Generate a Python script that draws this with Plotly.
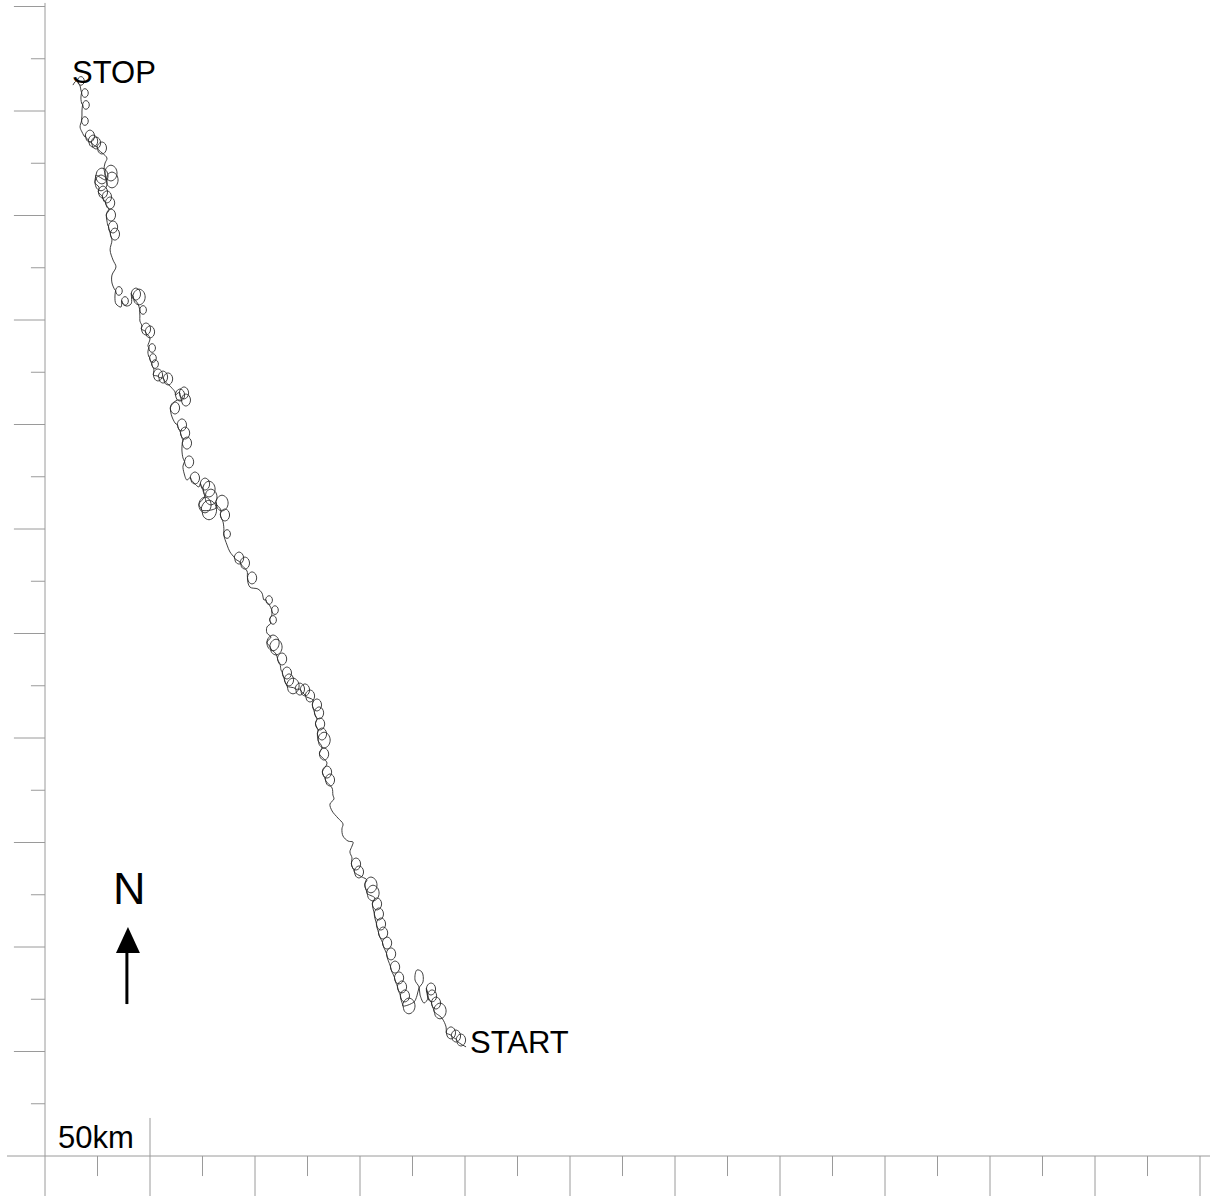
import plotly.graph_objects as go

# Drifter track, START -> STOP, in km east / north of the map origin.
# loop_radius_km > 0 marks an inertial loop centred on that point.
track_east_km = [
    200.5, 198.1, 195.7, 193.3, 191.0, 189.0, 188.1, 186.2, 184.3, 183.8,
    182.4, 180.5, 178.6, 178.1, 176.2, 177.1, 179.5, 180.0, 178.1, 177.1,
    175.7, 173.3, 171.4, 170.0, 168.6, 166.7, 164.8, 162.9, 161.0, 160.0,
    159.0, 158.1, 157.1, 156.2, 155.2, 153.3, 151.0, 149.5, 148.1, 146.2,
    145.2, 146.2, 146.7, 144.3, 141.9, 141.4, 141.9, 139.5, 136.7, 135.7,
    137.6, 137.1, 136.7, 135.7, 134.3, 134.3, 132.9, 131.9, 132.9, 131.9,
    130.0, 131.0, 129.5, 130.5, 129.5, 127.6, 126.2, 123.8, 121.4, 118.1,
    116.2, 115.2, 112.4, 111.9, 112.9, 110.0, 110.0, 108.6, 107.6, 105.7,
    105.7, 107.6, 108.6, 108.1, 109.5, 107.1, 106.7, 104.3, 103.3, 101.4,
    97.6, 98.6, 96.2, 95.2, 92.4, 90.0, 88.1, 86.7, 86.7, 85.2,
    84.8, 85.7, 83.8, 84.3, 81.4, 78.1, 76.2, 79.0, 78.1, 76.2,
    73.3, 71.0, 71.4, 67.6, 66.2, 65.7, 68.6, 65.7, 65.2, 67.6,
    65.7, 66.7, 65.2, 62.4, 60.5, 61.9, 62.9, 67.1, 66.2, 64.3,
    61.9, 60.0, 58.6, 56.2, 53.8, 51.9, 52.4, 51.4, 49.5, 49.0,
    51.0, 49.0, 50.0, 50.0, 48.1, 46.2, 45.2, 45.2, 46.7, 44.3,
    44.8, 43.3, 41.0, 38.6, 38.1, 36.2, 33.8, 33.3, 35.2, 33.3,
    31.9, 31.9, 33.8, 32.4, 31.0, 31.9, 33.3, 32.4, 30.0, 29.5,
    31.4, 30.5, 31.0, 29.5, 27.6, 25.7, 26.7, 27.1, 31.9, 31.4,
    28.1, 28.6, 29.5, 27.1, 24.8, 24.3, 22.9, 21.4, 19.0, 17.6,
    16.7, 19.0, 17.6, 17.6, 19.5, 17.6, 17.1, 19.0, 17.1, 16.7,
    17.1, 14.3, 13.3,
]
track_north_km = [
    52.2, 55.5, 57.4, 58.9, 61.7, 66.0, 69.4, 73.2, 76.6, 79.9,
    75.6, 73.2, 77.0, 80.9, 84.2, 89.0, 88.0, 83.3, 80.4, 76.6,
    73.7, 71.8, 76.6, 80.9, 85.2, 90.4, 96.7, 101.9, 106.7, 111.0,
    115.8, 120.6, 123.4, 125.8, 129.7, 132.1, 133.5, 135.9, 139.7, 142.6,
    145.5, 148.3, 150.2, 150.7, 153.1, 156.5, 158.9, 161.7, 165.1, 168.4,
    170.8, 172.7, 176.1, 179.9, 183.7, 188.0, 192.3, 195.7, 199.0, 201.9,
    203.8, 206.7, 209.1, 212.0, 215.8, 218.2, 220.1, 223.0, 223.4, 224.9,
    227.8, 231.1, 232.5, 235.4, 237.8, 240.2, 243.5, 245.5, 248.3, 250.2,
    253.1, 255.0, 256.5, 259.3, 261.2, 263.2, 266.0, 266.0, 269.4, 271.3,
    272.2, 276.6, 279.9, 283.7, 286.1, 286.6, 289.0, 292.3, 297.6, 299.5,
    303.3, 306.7, 309.1, 312.4, 310.0, 309.1, 311.5, 315.3, 319.1, 321.5,
    320.1, 322.0, 324.4, 323.4, 326.8, 330.1, 332.1, 334.0, 337.8, 341.1,
    342.1, 345.9, 349.8, 350.2, 353.6, 357.9, 361.7, 361.7, 365.1, 364.1,
    365.6, 367.9, 371.8, 372.7, 373.7, 376.1, 378.9, 381.8, 382.3, 384.7,
    386.6, 387.6, 391.4, 394.3, 395.7, 397.1, 399.5, 401.9, 404.8, 407.7,
    411.0, 412.4, 407.7, 406.7, 409.1, 406.2, 407.7, 411.0, 413.9, 414.4,
    417.7, 421.5, 425.4, 428.7, 433.5, 438.3, 441.1, 444.5, 445.0, 447.4,
    450.2, 452.6, 456.0, 458.9, 461.2, 463.6, 465.6, 468.9, 467.0, 470.3,
    472.2, 475.1, 477.5, 482.3, 482.8, 484.7, 485.6, 488.0, 487.6, 490.0,
    492.3, 495.2, 497.6, 500.0, 502.9, 503.3, 506.2, 508.6, 510.0, 512.0,
    514.4, 513.9, 512.4,
]
loop_radius_km = [
    0, 2.2, 2.2, 2.2, 0, 0, 2.9, 2.2, 2.2, 2.2,
    0, 0, 0, 0, 0, 0, 0, 0, 0, 0,
    0, 2.9, 2.2, 2.2, 2.2, 2.2, 2.2, 2.2, 2.2, 2.2,
    2.2, 2.2, 0, 2.9, 2.9, 0, 0, 2.2, 2.2, 0,
    0, 0, 0, 0, 0, 0, 0, 0, 0, 0,
    0, 0, 0, 2.2, 2.2, 0, 2.2, 0, 2.9, 2.2,
    0, 2.2, 0, 2.2, 2.2, 0, 2.2, 2.2, 2.2, 2.9,
    2.2, 2.2, 0, 0, 2.2, 0, 2.9, 2.9, 0, 0,
    0, 0, 1.6, 0, 1.6, 0, 1.6, 0, 0, 0,
    0, 2.2, 0, 2.2, 2.2, 0, 0, 0, 1.6, 0,
    0, 2.2, 0, 2.9, 0, 3.6, 2.9, 2.9, 2.9, 2.2,
    0, 0, 2.2, 0, 0, 0, 2.2, 0, 0, 2.2,
    0, 2.2, 2.2, 0, 0, 2.2, 0, 2.2, 2.2, 2.2,
    0, 0, 2.2, 2.2, 2.2, 0, 1.6, 1.6, 0, 0,
    1.6, 0, 0, 2.2, 2.2, 0, 0, 0, 1.6, 0,
    2.9, 2.2, 0, 0, 1.6, 0, 0, 0, 1.6, 0,
    0, 0, 0, 0, 0, 0, 2.2, 2.2, 0, 0,
    2.2, 0, 2.2, 2.2, 2.2, 0, 2.9, 2.9, 2.9, 2.9,
    0, 0, 0, 2.2, 0, 2.2, 2.2, 2.2, 0, 0,
    0, 1.6, 0, 0, 1.6, 0, 0, 1.6, 0, 0,
    1.6, 0, 0,
]
# loops are a little taller (north-south) than they are wide
loop_aspect = 1.3

# Scale ticks every 25 km along both map edges
tick_km = [25, 50, 75, 100, 125, 150, 175, 200, 225, 250, 275,
           300, 325, 350, 375, 400, 425, 450, 475, 500, 525, 550]
scale_bar_km = 50

# Unit loop outline, entered and left on its west side
loop_dx = [-1.0, -0.7, 0.0, 0.7, 1.0, 0.7, 0.0, -0.7, -1.0]
loop_dy = [0.0, 0.7, 1.0, 0.7, 0.0, -0.7, -1.0, -0.7, 0.1]

path_x, path_y = [], []
for e, n, r in zip(track_east_km, track_north_km, loop_radius_km):
    if r == 0:
        path_x.append(e)
        path_y.append(n)
    else:
        path_x += [e + r * dx for dx in loop_dx]
        path_y += [n + r * loop_aspect * dy for dy in loop_dy]

X_RANGE = [-21.43, 554.76]
Y_RANGE = [-19.14, 553.11]
AXIS_COLOR = "#9a9a9a"

fig = go.Figure()
fig.add_trace(go.Scatter(
    x=path_x, y=path_y, mode="lines",
    line=dict(color="#2a2a2a", width=0.9, shape="spline", smoothing=1.0),
    hoverinfo="skip", showlegend=False,
))

shapes = []
# map frame: bottom and left edges
shapes.append(dict(type="line", xref="x", yref="y", x0=-18.1, x1=X_RANGE[1], y0=0, y1=0,
                   line=dict(color=AXIS_COLOR, width=1)))
shapes.append(dict(type="line", xref="x", yref="y", x0=0, x1=0, y0=Y_RANGE[0], y1=551.7,
                   line=dict(color=AXIS_COLOR, width=1)))
for i, t in enumerate(tick_km):
    major = (i % 2 == 1)
    # bottom edge ticks
    y_top = 18.2 if t == scale_bar_km else 0
    shapes.append(dict(type="line", xref="x", yref="y", x0=t, x1=t,
                       y0=Y_RANGE[0] if major else -9.6, y1=y_top,
                       line=dict(color=AXIS_COLOR, width=1)))
    # left edge ticks
    shapes.append(dict(type="line", xref="x", yref="y", x0=-14.8 if major else -6.7, x1=0,
                       y0=t, y1=t, line=dict(color=AXIS_COLOR, width=1)))

# north arrow
shapes.append(dict(type="line", xref="x", yref="y", x0=39.0, x1=39.0, y0=72.7, y1=97.5,
                   line=dict(color="black", width=3)))
shapes.append(dict(type="path", xref="x", yref="y",
                   path="M 33.8 97.1 L 45.2 97.1 L 39.5 109.6 Z",
                   fillcolor="black", line=dict(color="black", width=0)))

font = "Liberation Sans, Arial, sans-serif"
annotations = [
    dict(x=12.0, y=518.5, text="STOP", xanchor="left", yanchor="middle"),
    dict(x=201.2, y=54.3, text="START", xanchor="left", yanchor="middle"),
    dict(x=5.3, y=8.9, text="50km", xanchor="left", yanchor="middle"),
]
for a in annotations:
    a.update(xref="x", yref="y", showarrow=False, font=dict(family=font, size=31, color="black"))
annotations.append(dict(x=40.2, y=127.8, text="N", xref="x", yref="y", showarrow=False,
                        xanchor="center", yanchor="middle",
                        font=dict(family=font, size=45, color="black")))

fig.update_layout(
    width=1210, height=1196,
    margin=dict(l=0, r=0, t=0, b=0),
    paper_bgcolor="white", plot_bgcolor="white",
    xaxis=dict(range=X_RANGE, visible=False, showgrid=False, zeroline=False),
    yaxis=dict(range=Y_RANGE, visible=False, showgrid=False, zeroline=False),
    shapes=shapes, annotations=annotations,
)

fig.write_html("out.html")
